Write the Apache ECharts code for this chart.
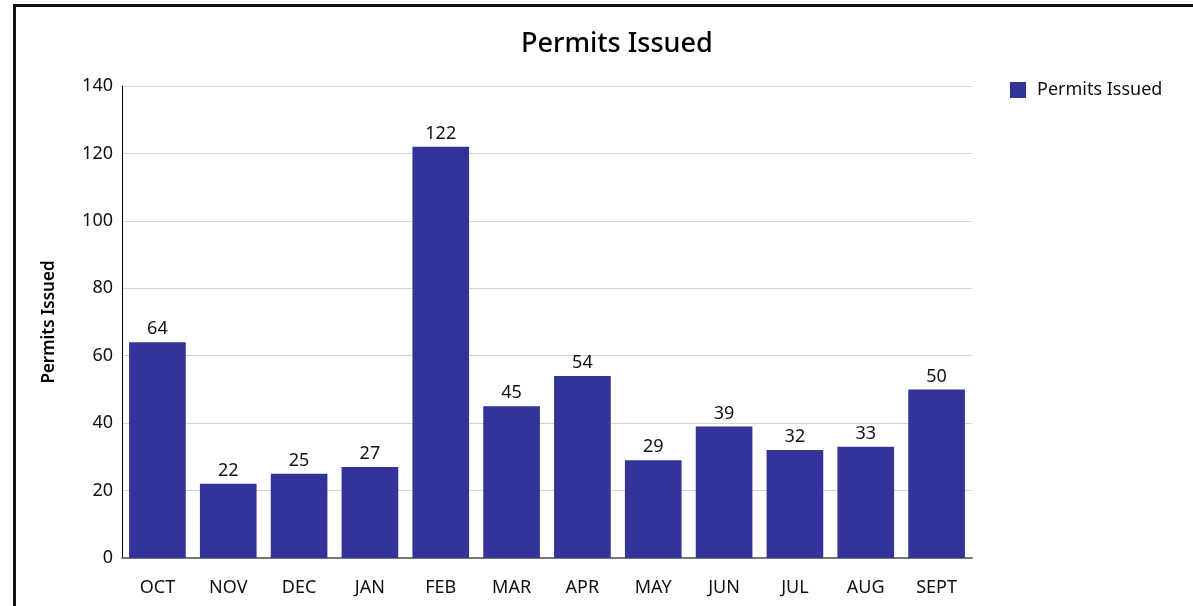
<!DOCTYPE html>
<html lang="en">
<head>
    <meta charset="UTF-8">
    <title>Permits Issued</title>
    <script src="https://cdn.jsdelivr.net/npm/echarts@6/dist/echarts.min.js"></script>
    <style>
        html, body { margin: 0; padding: 0; background: #fff; overflow: hidden; }
        #frame { position: absolute; left: 13px; top: 4px; width: 1300px; height: 700px; border: 3px solid #111; box-sizing: border-box; }
        #main { position: absolute; left: 0; top: 0; width: 1193px; height: 606px; }
    </style>
</head>
<body>
<div id="frame"></div>
<div id="main"></div>
<script>
    // month labels and permit counts
    let months = ['OCT', 'NOV', 'DEC', 'JAN', 'FEB', 'MAR', 'APR', 'MAY', 'JUN', 'JUL', 'AUG', 'SEPT'];
    let permits = [64, 22, 25, 27, 122, 45, 54, 29, 39, 32, 33, 50];
    let yTicks = [0, 20, 40, 60, 80, 100, 120, 140];

    let font = '"Noto Sans", "Open Sans", sans-serif';
    let mychart = echarts.init(document.getElementById('main'));
    let option = {
        animation: false,
        textStyle: { fontFamily: font },
        title: {
            text: 'Permits Issued',
            left: 516,
            top: 26,
            textStyle: { fontSize: 27, fontWeight: 500, color: '#000', fontFamily: font }
        },
        legend: {
            data: ['Permits Issued'],
            left: 1005,
            top: 76,
            icon: 'rect',
            itemWidth: 16,
            itemHeight: 16,
            textStyle: { fontSize: 18, color: '#111', fontFamily: font, padding: [0, 0, 0, 6] }
        },
        grid: { left: 122, right: 221, top: 86, bottom: 48 },
        xAxis: {
            type: 'category',
            data: months,
            axisLine: { lineStyle: { color: '#777', width: 2 } },
            axisTick: { show: false },
            axisLabel: { fontSize: 18, color: '#111', margin: 21 }
        },
        yAxis: {
            type: 'value',
            min: yTicks[0],
            max: yTicks[yTicks.length - 1],
            interval: 20,
            name: 'Permits Issued',
            nameLocation: 'middle',
            nameRotate: 90,
            nameGap: 64,
            nameTextStyle: { fontSize: 17, fontWeight: 600, color: '#000' },
            axisLine: { show: true, lineStyle: { color: '#000', width: 1 } },
            axisTick: { show: false },
            axisLabel: { fontSize: 18, color: '#111', margin: 9 },
            splitLine: { lineStyle: { color: '#d4d4d4' } }
        },
        series: [{
            name: 'Permits Issued',
            type: 'bar',
            data: permits,
            barCategoryGap: '20%',
            itemStyle: { color: '#333399' },
            label: { show: true, position: 'top', fontSize: 18, color: '#111', distance: 4 }
        }]
    };
    mychart.setOption(option);
</script>
</body>
</html>
